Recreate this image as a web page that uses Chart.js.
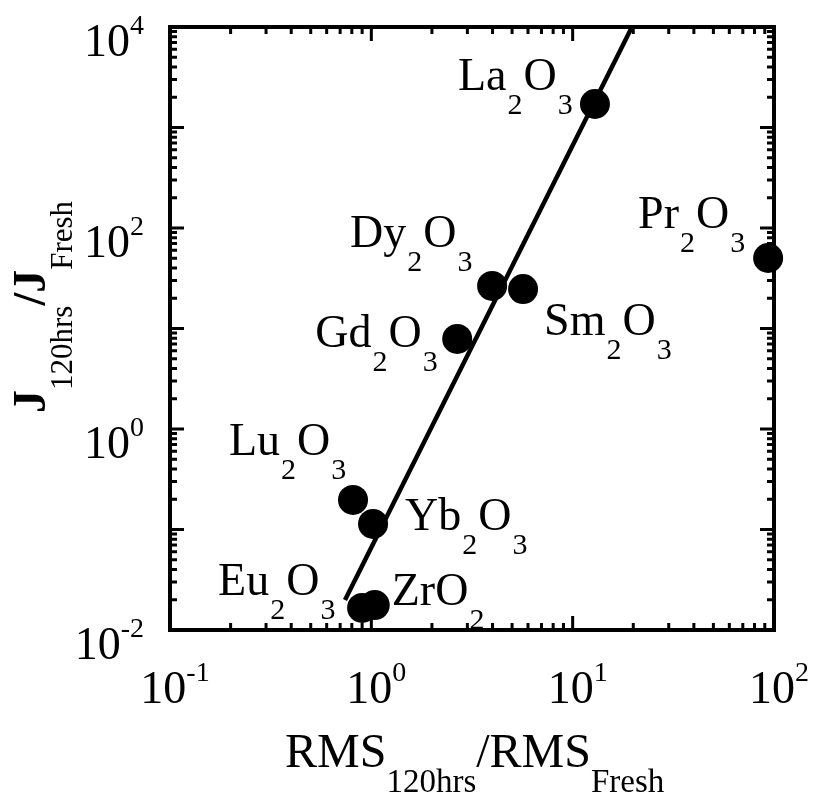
<!DOCTYPE html>
<html>
<head>
<meta charset="utf-8">
<script src="https://cdn.jsdelivr.net/npm/chart.js@4"></script>
<style>
  html, body { margin: 0; padding: 0; background: #fff; }
  canvas { display: block; }
</style>
</head>
<body>
<canvas id="c" width="815" height="801"></canvas>
<script>
// ---- data ----
const materials = ["La2O3", "Pr2O3", "Dy2O3", "Sm2O3", "Gd2O3", "Lu2O3", "Yb2O3", "Eu2O3", "ZrO2"];
const rmsRatio  = [12.9, 93.5, 3.98, 5.67, 2.67, 0.811, 1.02, 0.90, 1.04];
const jRatio    = [1714, 50.3, 26.5, 24.7, 7.87, 0.197, 0.1135, 0.0166, 0.0177];
const fitX = [0.74, 19.7];
const fitY = [0.0199, 10000];
const xTickExponents = [-1, 0, 1, 2];
const yTickExponents = [-2, 0, 2, 4];

// ---- label placement (pixel offsets from each point) ----
const labelOffsets = [[-137, -14], [-130, -30], [-142, -39], [21, 46], [-142, 8], [-124, -45], [32, 6], [-144, -13], [17, 0]];

const FONT = '"Liberation Serif", "Times New Roman", serif';

function formulaParts(s) {
  const parts = [];
  const re = /([A-Za-z]+)|(\d+)/g;
  let m;
  while ((m = re.exec(s)) !== null) {
    if (m[1]) parts.push([m[1], 0]); else parts.push([m[2], 1]);
  }
  return parts;
}

// parts: [text, kind(0 main, 1 sub, -1 sup), bold?]
function richWidth(ctx, parts, o) {
  let w = 0;
  for (const p of parts) {
    const size = p[1] === 0 ? o.main : o.small;
    ctx.font = (p[2] ? 'bold ' : '') + size + 'px ' + FONT;
    w += ctx.measureText(p[0]).width + (o.gap || 0);
  }
  return w;
}
function drawRich(ctx, parts, x, y, o) {
  let cx = x;
  ctx.textAlign = 'left';
  ctx.textBaseline = 'alphabetic';
  for (const p of parts) {
    const size = p[1] === 0 ? o.main : o.small;
    ctx.font = (p[2] ? 'bold ' : '') + size + 'px ' + FONT;
    const dy = p[1] === 1 ? o.shift : (p[1] === -1 ? -o.shift : 0);
    ctx.fillText(p[0], cx, y + dy);
    cx += ctx.measureText(p[0]).width + (o.gap || 0);
  }
}

const decor = {
  id: 'decor',
  beforeDatasetsDraw(chart) {
    const ctx = chart.ctx;
    const a = chart.chartArea;
    const xs = chart.scales.x, ys = chart.scales.y;
    ctx.save();
    ctx.strokeStyle = '#000';
    ctx.fillStyle = '#000';
    // frame
    ctx.lineWidth = 4;
    ctx.strokeRect(a.left, a.top, a.right - a.left, a.bottom - a.top);
    // ticks
    ctx.lineWidth = 3;
    ctx.lineCap = 'butt';
    const MAJ = 14, MIN = 7;
    function xtick(v, len) {
      const px = xs.getPixelForValue(v);
      ctx.beginPath();
      ctx.moveTo(px, a.bottom); ctx.lineTo(px, a.bottom - len);
      ctx.moveTo(px, a.top); ctx.lineTo(px, a.top + len);
      ctx.stroke();
    }
    function ytick(v, len) {
      const py = ys.getPixelForValue(v);
      ctx.beginPath();
      ctx.moveTo(a.left, py); ctx.lineTo(a.left + len, py);
      ctx.moveTo(a.right, py); ctx.lineTo(a.right - len, py);
      ctx.stroke();
    }
    for (let e = -1; e <= 2; e++) {
      xtick(Math.pow(10, e), MAJ);
      if (e < 2) for (let k = 2; k <= 9; k++) xtick(k * Math.pow(10, e), MIN);
    }
    for (let e = -2; e <= 4; e++) {
      ytick(Math.pow(10, e), MAJ);
      if (e < 4) for (let k = 2; k <= 9; k++) ytick(k * Math.pow(10, e), MIN);
    }
    // tick labels
    const tOpt = { main: 46, small: 28, shift: 22 };
    for (const e of xTickExponents) {
      const parts = [['10', 0], [String(e), -1]];
      const w = richWidth(ctx, parts, tOpt);
      const px = xs.getPixelForValue(Math.pow(10, e));
      drawRich(ctx, parts, px + 5 - w / 2, a.bottom + 73, tOpt);
    }
    for (const e of yTickExponents) {
      const parts = [['10', 0], [String(e), -1]];
      const w = richWidth(ctx, parts, tOpt);
      const py = ys.getPixelForValue(Math.pow(10, e));
      drawRich(ctx, parts, a.left - 26 - w, py + 29, tOpt);
    }
    // x title
    drawRich(ctx, [['RMS', 0], ['120hrs', 1], ['/RMS', 0], ['Fresh', 1]], 285, 767, { main: 48, small: 33, shift: 25 });
    // y title (rotated)
    ctx.save();
    ctx.translate(45, 413);
    ctx.rotate(-Math.PI / 2);
    drawRich(ctx, [['J', 0, true], ['120hrs', 1], ['/J', 0, true], ['Fresh', 1]], 0, 0, { main: 46, small: 31, shift: 27 });
    ctx.restore();
    // point labels
    const lOpt = { main: 46, small: 30, shift: 24, gap: 1 };
    materials.forEach((m, i) => {
      const px = xs.getPixelForValue(rmsRatio[i]);
      const py = ys.getPixelForValue(jRatio[i]);
      drawRich(ctx, formulaParts(m), px + labelOffsets[i][0], py + labelOffsets[i][1], lOpt);
    });
    ctx.restore();
  }
};

new Chart(document.getElementById('c').getContext('2d'), {
  type: 'scatter',
  data: {
    datasets: [
      {
        label: 'data',
        data: materials.map((m, i) => ({ x: rmsRatio[i], y: jRatio[i] })),
        pointRadius: 15,
        pointHoverRadius: 15,
        backgroundColor: '#000',
        borderColor: '#000',
        borderWidth: 0,
        clip: false,
        order: 1
      },
      {
        label: 'fit',
        data: fitX.map((x, i) => ({ x: x, y: fitY[i] })),
        showLine: true,
        borderColor: '#000',
        borderWidth: 4.5,
        pointRadius: 0,
        fill: false,
        order: 2
      }
    ]
  },
  options: {
    responsive: false,
    animation: false,
    events: [],
    layout: { padding: { left: 170, top: 27, right: 41, bottom: 171 } },
    plugins: { legend: { display: false }, tooltip: { enabled: false } },
    scales: {
      x: { type: 'logarithmic', min: 0.1, max: 100, display: false },
      y: { type: 'logarithmic', min: 0.01, max: 10000, display: false }
    }
  },
  plugins: [decor]
});
</script>
</body>
</html>
